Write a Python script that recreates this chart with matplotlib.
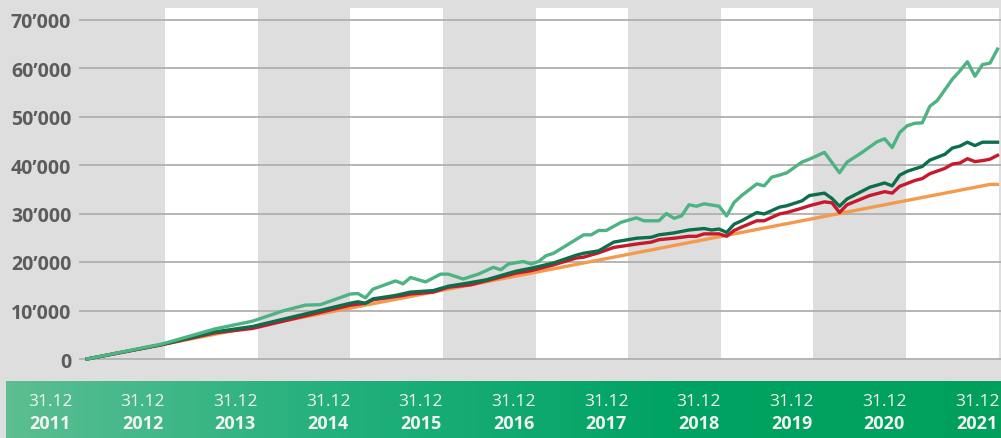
import matplotlib
matplotlib.use("Agg")
import matplotlib.pyplot as plt
import numpy as np
from matplotlib.ticker import FuncFormatter
from matplotlib.colors import LinearSegmentedColormap

# ---------------- data (month index since start, value) ----------------
light_months = [0, 10, 17, 22, 26, 29, 31, 35, 36, 37, 38, 41, 42, 43, 45, 47, 48, 50, 52, 54,
                55, 56, 58, 59, 60, 61, 62, 66, 67, 68, 69, 71, 73, 74, 76, 77, 78, 79, 80, 81,
                82, 84, 85, 86, 87, 89, 90, 91, 92, 93, 94, 95, 96, 98, 100, 101, 103, 105, 106,
                107, 108, 109, 110, 111, 112, 113, 115, 116, 117, 118, 119, 120, 121]
light_values = [0, 3100, 6200, 7800, 9900, 11100, 11200, 13400, 13500, 12600, 14400, 16100, 15500,
                16800, 15900, 17500, 17500, 16500, 17500, 18900, 18400, 19600, 20100, 19600, 20100,
                21300, 21800, 25600, 25600, 26500, 26500, 28200, 29100, 28500, 28500, 30000, 29000,
                29500, 31800, 31500, 32000, 31500, 29500, 32300, 33700, 36100, 35700, 37500, 37900,
                38400, 39500, 40600, 41200, 42600, 38400, 40600, 42600, 44800, 45400, 43600, 46700,
                48100, 48600, 48700, 52100, 53300, 57700, 59400, 61300, 58300, 60700, 61000, 63900]

dark_months = [0, 10, 17, 22, 35, 36, 37, 38, 41, 43, 46, 48, 50, 53, 57, 59, 62, 65, 66, 68, 70,
               73, 75, 76, 78, 80, 82, 83, 84, 85, 86, 87, 89, 90, 92, 93, 95, 96, 98, 99, 100,
               101, 104, 106, 107, 108, 109, 111, 112, 114, 115, 116, 117, 118, 119, 121]
dark_values = [0, 3000, 5600, 6700, 11500, 11800, 11500, 12400, 13100, 13800, 14100, 15000, 15500,
               16300, 18100, 18700, 19800, 21400, 21800, 22300, 24100, 24900, 25100, 25600, 26000,
               26600, 26900, 26600, 26800, 26100, 27800, 28500, 30200, 29900, 31300, 31600, 32600,
               33700, 34200, 33100, 31500, 33000, 35400, 36300, 35700, 37900, 38700, 39700, 41000,
               42200, 43500, 43900, 44700, 44000, 44700, 44700]

red_months = [0, 10, 17, 22, 35, 37, 38, 42, 43, 46, 48, 51, 57, 59, 62, 65, 66, 68, 70, 73, 75,
              76, 78, 80, 81, 82, 84, 85, 86, 87, 89, 90, 92, 93, 95, 96, 98, 99, 100, 101, 104,
              106, 107, 108, 109, 110, 111, 112, 114, 115, 116, 117, 118, 119, 120, 121]
red_values = [0, 2950, 5400, 6300, 11100, 11500, 12200, 13100, 13400, 13800, 14800, 15300, 17700,
              18200, 19400, 20800, 21000, 21900, 23000, 23700, 24100, 24600, 24900, 25300, 25300,
              25800, 25800, 25300, 26500, 27200, 28500, 28500, 29900, 30200, 31100, 31600, 32400,
              32200, 30200, 31800, 33700, 34500, 34200, 35600, 36200, 36800, 37200, 38200, 39300,
              40200, 40400, 41300, 40700, 40900, 41200, 42000]

orange_months = [0, 120, 121]
orange_values = [0, 36000, 36000]

y_ticks = [0, 10000, 20000, 30000, 40000, 50000, 60000, 70000]
date_labels = ["31.12"] * 11
year_labels = ["2011", "2012", "2013", "2014", "2015", "2016", "2017", "2018", "2019", "2020", "2021"]

# ---------------- styling ----------------
W, H = 1001, 439
BG = "#dedede"
C_LIGHT = "#4db383"
C_DARK = "#0c6e4b"
C_RED = "#c8192c"
C_ORANGE = "#f39a4c"
GRID = "#b0b0b0"
LABEL = "#5c5c5c"

fig = plt.figure(figsize=(W / 100, H / 100), dpi=100)
fig.patch.set_facecolor(BG)


def px_axes(x0, y0, x1, y1):
    return fig.add_axes([x0 / W, 1 - y1 / H, (x1 - x0) / W, (y1 - y0) / H])


# main axes: pixel 9 (top) .. 372 (bottom); y=0 at pixel 360
px_per_unit = 48.5 / 10000.0
y_top = (360 - 9) / px_per_unit
y_bot = -(372 - 360) / px_per_unit
ax = px_axes(79, 9, 1001, 372)
ax.set_facecolor("none")
x_left = (79 - 87) / 7.525
x_right = (1001 - 87) / 7.525
ax.set_xlim(x_left, x_right)
ax.set_ylim(y_bot, y_top)
for s in ax.spines.values():
    s.set_visible(False)

# alternating white year bands
band_start, band_period = 10.37, 12.31
for k in range(5):
    a = band_start + 2 * k * band_period
    b = min(a + band_period, x_right + 1)
    ax.fill_between([a, b], 0, y_top, color="white", lw=0, zorder=0)

ax.hlines(y_ticks, x_left, x_right, color=GRID, lw=1.3, zorder=1)

lw = 2.4
ax.plot(orange_months, orange_values, color=C_ORANGE, lw=lw, zorder=3, solid_joinstyle="round")
ax.plot(red_months, red_values, color=C_RED, lw=lw, zorder=4, solid_joinstyle="round")
ax.plot(dark_months, dark_values, color=C_DARK, lw=lw, zorder=5, solid_joinstyle="round")
ax.plot(light_months, light_values, color=C_LIGHT, lw=lw, zorder=6, solid_joinstyle="round")

ax.set_xticks([])
ax.set_yticks(y_ticks)
ax.yaxis.set_major_formatter(FuncFormatter(lambda v, p: f"{int(v):,}".replace(",", "\u2019")))
ax.tick_params(axis="y", length=0, pad=5.5, labelsize=14, labelcolor=LABEL)
for t in ax.get_yticklabels():
    t.set_fontfamily(["Open Sans", "DejaVu Sans"])
    t.set_fontweight("bold")

# bottom gradient bar
bar = px_axes(6, 382, 1001, 439)
cmap = LinearSegmentedColormap.from_list("g", ["#5cbe91", "#22b07c", "#00a363", "#00a05c"])
bar.imshow(np.linspace(0, 1, 256)[None, :], aspect="auto", cmap=cmap, extent=[0, 1, 0, 1])
bar.set_axis_off()

label_x0, label_step = 50, 92.7
for i, (d, y) in enumerate(zip(date_labels, year_labels)):
    xc = (label_x0 + i * label_step) / W
    fig.text(xc, 1 - 402 / H, d, ha="center", va="center", fontsize=12.5,
             color="#f2f2f2", family=["Open Sans", "DejaVu Sans"])
    fig.text(xc, 1 - 424 / H, y, ha="center", va="center", fontsize=13,
             color="#f2f2f2", fontweight="bold", family=["Open Sans", "DejaVu Sans"])

fig.savefig("out.png", dpi=100, facecolor=BG)
